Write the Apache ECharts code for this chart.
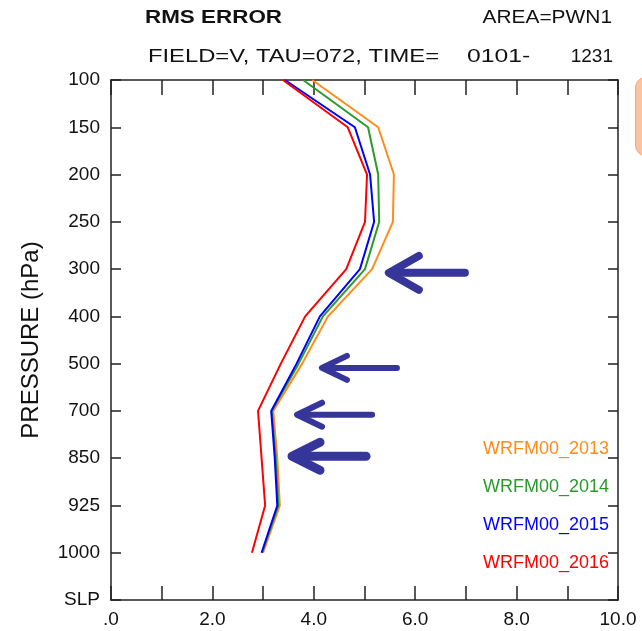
<!DOCTYPE html>
<html>
<head>
<meta charset="utf-8">
<script src="https://cdn.jsdelivr.net/npm/echarts@6/dist/echarts.min.js"></script>
<style>html,body{margin:0;padding:0;background:#fff}#c{width:642px;height:631px}</style>
</head>
<body>
<div id="c"></div>
<script>
// ---- data ----
const levels = ['100','150','200','250','300','400','500','700','850','925','1000','SLP'];
const xTicks = [0,1,2,3,4,5,6,7,8,9,10];
const seriesNames = ['WRFM00_2013','WRFM00_2014','WRFM00_2015','WRFM00_2016'];
const rms2013 = [3.97, 5.27, 5.58, 5.56, 5.15, 4.28, 3.77, 3.20, 3.28, 3.33, 3.00];
const rms2014 = [3.79, 5.07, 5.27, 5.29, 5.01, 4.18, 3.70, 3.17, 3.25, 3.30, 2.98];
const rms2015 = [3.43, 4.81, 5.11, 5.19, 4.91, 4.12, 3.66, 3.16, 3.23, 3.28, 2.97];
const rms2016 = [3.39, 4.67, 5.05, 5.01, 4.64, 3.83, 3.35, 2.90, 2.97, 3.04, 2.78];
// annotation arrows: [tip value, tail value, level position (index units)]
const arrowTips  = [5.48, 4.16, 3.67, 3.57];
const arrowTails = [6.98, 5.64, 5.15, 5.03];
const arrowLevel = [4.08, 6.09, 7.08, 7.96];
const titleMain = 'RMS ERROR';
const titleArea = 'AREA=PWN1';
const subParts = ['FIELD=V, TAU=072, TIME=', '0101-', '1231'];

// ---- styles ----
const colors = ['#ff8c1a', '#2a9a2a', '#0000ff', '#ff0000'];
const arrowStroke = [8, 6, 6, 9];
const arrowHead = [[30, 17], [25, 12], [25, 12], [28, 14]];
const FONT = 'Liberation Sans, Arial, Helvetica, sans-serif';
const AX = '#222';
const TXT = '#111';

const chart = echarts.init(document.getElementById('c'), null, {renderer: 'canvas'});
const allData = [rms2013, rms2014, rms2015, rms2016];

const lineSeries = seriesNames.map((n, i) => ({
  name: n, type: 'line', data: allData[i], xAxisIndex: 0, yAxisIndex: 0,
  showSymbol: false, symbol: 'none', smooth: false,
  lineStyle: {color: colors[i], width: 2}, itemStyle: {color: colors[i]},
  z: 3
}));

const arrowData = arrowTips.map((t, i) => [t, arrowTails[i], arrowLevel[i], i]);

const arrowSeries = {
  type: 'custom', xAxisIndex: 0, yAxisIndex: 2, silent: true, z: 5,
  data: arrowData,
  encode: {x: [0, 1], y: 2},
  renderItem: function (params, api) {
    const i = api.value(3);
    const tip = api.coord([api.value(0), api.value(2)]);
    const tail = api.coord([api.value(1), api.value(2)]);
    const w = arrowStroke[i];
    const h = arrowHead[i];
    const st = {stroke: '#35359a', lineWidth: w, lineCap: 'round', lineJoin: 'round', fill: null};
    return {
      type: 'group',
      children: [
        {type: 'line', shape: {x1: tip[0] + 2, y1: tip[1], x2: tail[0], y2: tail[1]}, style: st},
        {type: 'polyline', shape: {points: [[tip[0] + h[0], tip[1] - h[1]], [tip[0], tip[1]], [tip[0] + h[0], tip[1] + h[1]]]}, style: st}
      ]
    };
  }
};

const xLabelFmt = v => (v % 2 !== 0 ? '' : (v === 0 ? '.0' : v.toFixed(1)));

function txt(text, x, y, opts) {
  return {
    type: 'text', x: x, y: y, scaleX: opts.scaleX || 1, z: 10, silent: true,
    style: {text: text, x: 0, y: 0, fill: TXT, align: opts.align || 'left', verticalAlign: 'middle',
            font: (opts.bold ? 'bold ' : '') + (opts.size || 19) + 'px ' + FONT}
  };
}

const option = {
  animation: false,
  backgroundColor: '#fff',
  textStyle: {fontFamily: FONT},
  legend: {
    orient: 'vertical', left: 473, top: 434, itemGap: 18, itemWidth: 0, itemHeight: 0,
    icon: 'none', selectedMode: false,
    textStyle: {fontFamily: FONT, fontSize: 18, lineHeight: 20},
    data: seriesNames.map((n, i) => ({name: n, textStyle: {color: colors[i]}}))
  },
  grid: {left: 111, right: 24, top: 80, bottom: 31, containLabel: false},
  xAxis: [
    {type: 'value', min: xTicks[0], max: xTicks[xTicks.length - 1], interval: 1, position: 'bottom',
     axisLine: {show: true, onZero: false, lineStyle: {color: AX, width: 1.5}},
     axisTick: {show: true, inside: true, length: 14, lineStyle: {color: AX, width: 1.5}},
     axisLabel: {formatter: xLabelFmt, margin: 10, fontSize: 19, color: TXT, fontFamily: FONT, showMinLabel: true, showMaxLabel: true},
     splitLine: {show: false}},
    {type: 'value', min: xTicks[0], max: xTicks[xTicks.length - 1], interval: 1, position: 'top',
     axisLine: {show: true, onZero: false, lineStyle: {color: AX, width: 1.5}},
     axisTick: {show: true, inside: true, length: 15, lineStyle: {color: AX, width: 1.5}},
     axisLabel: {show: false}, splitLine: {show: false}}
  ],
  yAxis: [
    {type: 'category', data: levels, inverse: true, boundaryGap: false, position: 'left',
     name: 'PRESSURE (hPa)', nameLocation: 'middle', nameGap: 68, nameRotate: 90,
     nameTextStyle: {fontFamily: FONT, fontSize: 24, color: TXT},
     axisLine: {show: true, onZero: false, lineStyle: {color: AX, width: 1.5}},
     axisTick: {show: true, inside: true, length: 10, interval: 0, lineStyle: {color: AX, width: 1.5}},
     axisLabel: {margin: 11, fontSize: 19, color: TXT, fontFamily: FONT, interval: 0},
     splitLine: {show: false}},
    {type: 'category', data: levels, inverse: true, boundaryGap: false, position: 'right',
     axisLine: {show: true, onZero: false, lineStyle: {color: AX, width: 1.5}},
     axisTick: {show: true, inside: true, length: 10, interval: 0, lineStyle: {color: AX, width: 1.5}},
     axisLabel: {show: false}, splitLine: {show: false}},
    {type: 'value', min: 0, max: levels.length - 1, inverse: true, show: false}
  ],
  graphic: [
    txt(titleMain, 145, 18, {bold: true, size: 19, scaleX: 1.18}),
    txt(titleArea, 612, 18, {size: 19, scaleX: 1.1, align: 'right'}),
    txt(subParts[0], 148, 57, {size: 19, scaleX: 1.25}),
    txt(subParts[1], 467, 57, {size: 19, scaleX: 1.3}),
    txt(subParts[2], 613, 57, {size: 19, scaleX: 1.0, align: 'right'}),
    {type: 'rect', left: 635, top: 77, shape: {width: 30, height: 78, r: 10},
     style: {fill: '#fcc3a0', stroke: '#f7a578', lineWidth: 1}, z: 10}
  ],
  series: lineSeries.concat([arrowSeries])
};
chart.setOption(option);
</script>
</body>
</html>
